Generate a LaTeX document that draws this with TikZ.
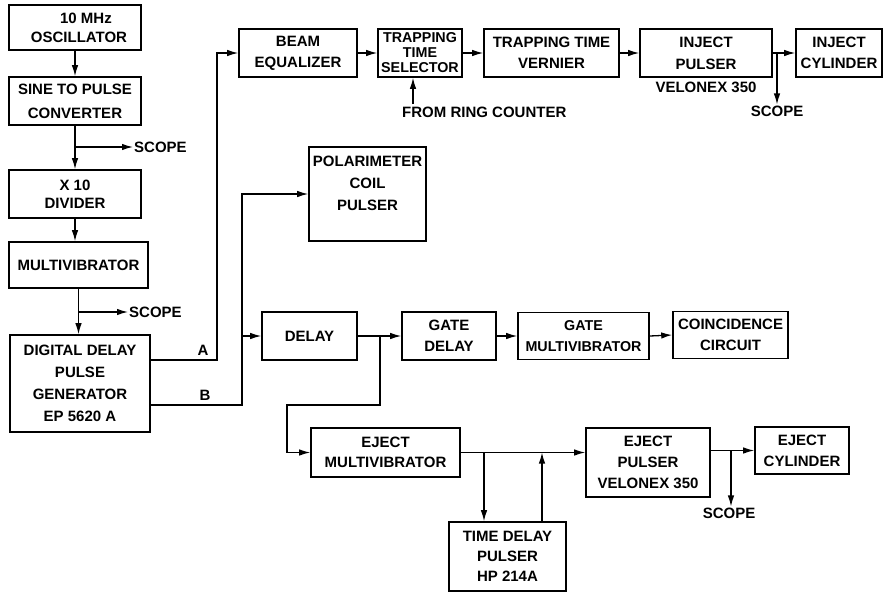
\documentclass[tikz,border=0pt]{standalone}
\usepackage{fontspec}
\setmainfont{Liberation Sans}
\usetikzlibrary{arrows.meta}
\newcommand\bxf[1]{\fontsize{15}{#1}\bfseries\selectfont}
\newcommand\bxs[1]{\fontsize{14.3}{#1}\bfseries\selectfont}
\begin{document}
\begin{tikzpicture}[x=1pt,y=-1pt,
  box/.style={draw, line width=1.6pt, align=center, inner sep=1pt, font=\bxf{21}},
  lbl/.style={inner sep=1pt, font=\bxf{18}},
  conn/.style={line width=1.3pt},
  arr/.style={conn, -{Latex[length=11pt,width=6.5pt]}},
]
\useasboundingbox (0,0) rectangle (883,592);
% left column
\node[box, minimum width=132pt, minimum height=45pt, font=\bxf{19}] (osc) at (75,27.5) {\hspace*{22pt}10 MHz\\\hspace*{8pt}OSCILLATOR};
\node[box, minimum width=132pt, minimum height=48pt, font=\bxf{24}] (sine) at (75,101) {SINE TO PULSE\\CONVERTER};
\node[box, minimum width=132pt, minimum height=48pt, font=\bxf{18}] (x10) at (75,194) {X 10\\DIVIDER};
\node[box, minimum width=139pt, minimum height=46pt] (mult) at (78.5,265) {MULTIVIBRATOR};
\node[box, minimum width=140pt, minimum height=97pt, font=\bxf{22}] (ddpg) at (80,383.5) {DIGITAL DELAY\\PULSE\\GENERATOR\\EP 5620 A};
% top row
\node[box, minimum width=118pt, minimum height=48pt] (beam) at (298,53) {BEAM\\EQUALIZER};
\node[box, minimum width=84pt, minimum height=48pt, font=\bxs{15}] (tts) at (420,53) {TRAPPING\\TIME\\SELECTOR};
\node[box, minimum width=135pt, minimum height=48pt] (ttv) at (551.5,53) {TRAPPING TIME\\VERNIER};
\node[box, minimum width=132pt, minimum height=48pt, font=\bxf{22}] (ip) at (706,53) {INJECT\\PULSER};
\node[box, minimum width=86pt, minimum height=48pt] (ic) at (839,53) {INJECT\\CYLINDER};
% middle
\node[box, minimum width=117pt, minimum height=94pt, font=\bxf{22}] (pol) at (367.5,194) {POLARIMETER\\COIL\\PULSER\\~};
\node[box, minimum width=95pt, minimum height=48pt] (delay) at (309.5,336) {DELAY};
\node[box, minimum width=94pt, minimum height=48pt] (gd) at (449,336) {GATE\\DELAY};
\node[box, minimum width=131pt, minimum height=47pt, font=\bxs{21}] (gm) at (583.5,336) {GATE\\MULTIVIBRATOR};
\node[box, minimum width=115pt, minimum height=47pt] (coin) at (730.5,335) {COINCIDENCE\\CIRCUIT};
% bottom
\node[box, minimum width=149pt, minimum height=49pt, font=\bxf{20}] (em) at (385.5,452.5) {EJECT\\MULTIVIBRATOR};
\node[box, minimum width=124pt, minimum height=69pt] (ep) at (648,462.5) {EJECT\\PULSER\\VELONEX 350};
\node[box, minimum width=117pt, minimum height=69pt, font=\bxf{20}] (td) at (507.5,556.5) {TIME DELAY\\PULSER\\HP 214A};
\node[box, minimum width=94pt, minimum height=47pt] (ec) at (802,450.5) {EJECT\\CYLINDER};
% labels
\node[lbl, anchor=west] (scope1) at (133,147) {SCOPE};
\node[lbl, anchor=west] (scope2) at (128,312) {SCOPE};
\node[lbl, anchor=west] (ring) at (401,112) {FROM RING COUNTER};
\node[lbl] (velo) at (706,87) {VELONEX 350};
\node[lbl] (scope3) at (777,111) {SCOPE};
\node[lbl] (scope4) at (729,513) {SCOPE};
\node[lbl] (la) at (203,350) {A};
\node[lbl] (lb) at (205,395) {B};
% left column connectors
\draw[arr] (osc.south) -- (sine.north);
\draw[arr] (sine.south) -- (x10.north);
\coordinate (s1) at (75,147);
\draw[arr] (s1) -- (scope1.west);
\draw[arr] (x10.south) -- (x10.south |- mult.north);
\draw[arr] (mult.south) -- (mult.south |- ddpg.north);
\coordinate (s2) at (78.5,312);
\draw[arr] (s2) -- (scope2.west);
% A and B outputs
\coordinate (Ac) at (217,360);
\draw[arr] (Ac -| ddpg.east) -- (Ac) |- (beam.west);
\coordinate (Bc) at (242,405);
\draw[arr] (Bc -| ddpg.east) -- (Bc) |- (pol.west);
\draw[arr] (Bc |- delay.west) -- (delay.west);
% top row
\draw[arr] (beam.east) -- (tts.west);
\draw[arr] (tts.east) -- (ttv.west);
\draw[arr] (ttv.east) -- (ip.west);
\draw[arr] (ip.east) -- (ic.west);
\coordinate (rc) at (413,104);
\draw[arr] (rc) -- (rc |- tts.south);
\coordinate (b3) at (777,53);
\draw[arr] (b3) -- (b3 |- scope3.north);
% gate row
\draw[arr] (delay.east) -- (gd.west);
\draw[arr] (gd.east) -- (gm.west);
\draw[arr] (gm.east) -- (coin.west);
\coordinate (d1) at (380,336);
\coordinate (d2) at (380,405);
\coordinate (d3) at (287,405);
\draw[arr] (d1) -- (d2) -- (d3) |- (em.west);
% eject row
\draw[arr] (em.east) -- (em.east -| ep.west);
\coordinate (t1) at (484,452.5);
\coordinate (t2) at (542,452.5);
\draw[arr] (t1) -- (t1 |- td.north);
\draw[arr] (t2 |- td.north) -- (t2);
\draw[arr] (ec.west -| ep.east) -- (ec.west);
\coordinate (b4) at (731,450.5);
\draw[arr] (b4) -- (b4 |- scope4.north);
\end{tikzpicture}
\end{document}
